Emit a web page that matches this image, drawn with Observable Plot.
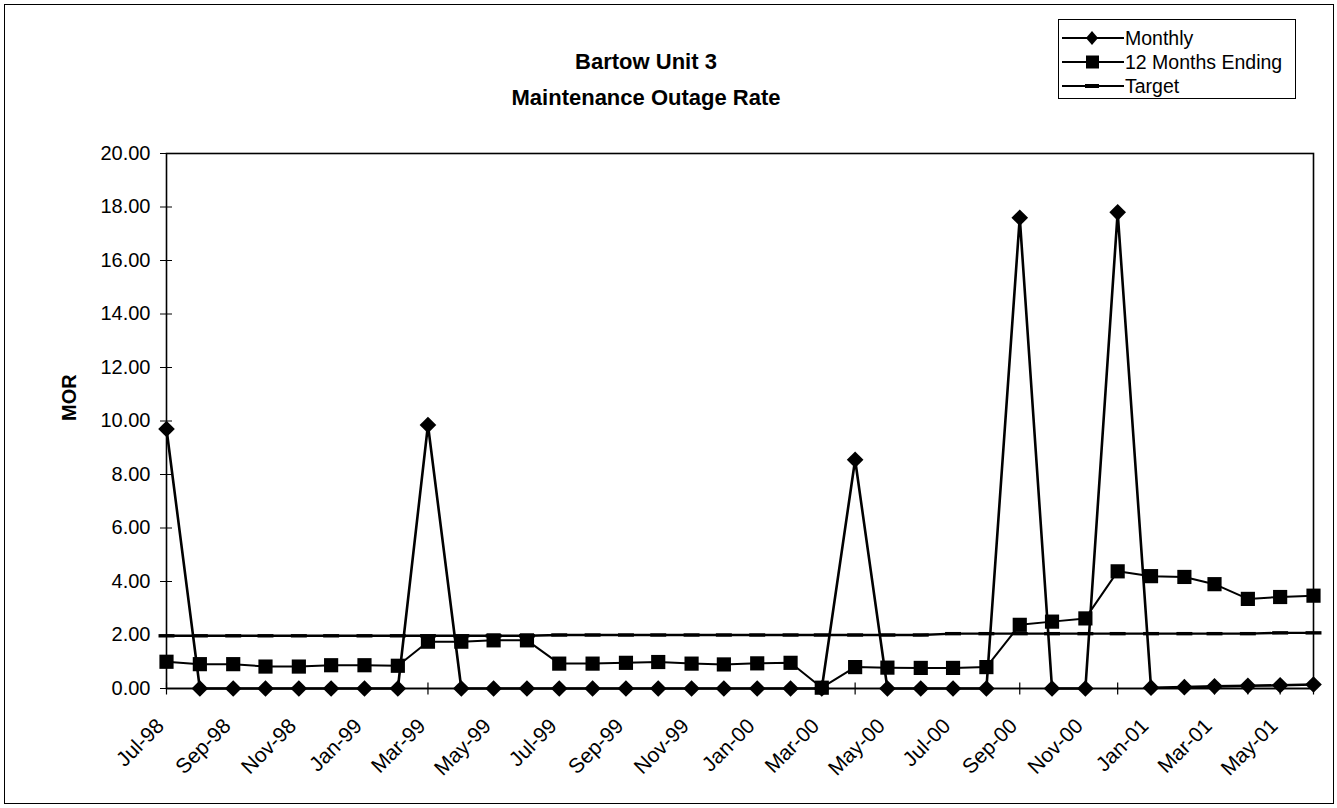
<!DOCTYPE html>
<html>
<head>
<meta charset="utf-8">
<script src="https://cdn.jsdelivr.net/npm/d3@7"></script>
<script src="https://cdn.jsdelivr.net/npm/@observablehq/plot@0.6"></script>
<style>
  html, body { margin: 0; padding: 0; background: #fff; }
  #wrap { position: relative; width: 1337px; height: 808px; overflow: hidden; font-family: "Liberation Sans", Arial, sans-serif; }
  #border { position: absolute; left: 4px; top: 4px; width: 1330px; height: 800px; border: 1.5px solid #000; box-sizing: border-box; }
  #title { position: absolute; left: 0; width: 1292px; top: 44px; text-align: center; font-weight: bold; font-size: 22px; line-height: 36px; color: #000; }
  #legend { position: absolute; left: 1058px; top: 19px; width: 238px; height: 80px; border: 1.5px solid #000; box-sizing: border-box; background: #fff; }
  .li { position: absolute; left: 3px; height: 24px; display: flex; align-items: center; font-size: 19.5px; color: #000; white-space: nowrap; }
  .li svg { margin-right: 1px; }
  #chart { position: absolute; left: 0; top: 0; }
</style>
</head>
<body>
<div id="wrap">
  <div id="border"></div>
  <div id="chart"></div>
  <div id="title">Bartow Unit 3<br>Maintenance Outage Rate</div>
  <div id="legend"></div>
</div>
<script>
const months = ["Jul-98","Aug-98","Sep-98","Oct-98","Nov-98","Dec-98","Jan-99","Feb-99","Mar-99","Apr-99","May-99","Jun-99",
  "Jul-99","Aug-99","Sep-99","Oct-99","Nov-99","Dec-99","Jan-00","Feb-00","Mar-00","Apr-00","May-00","Jun-00",
  "Jul-00","Aug-00","Sep-00","Oct-00","Nov-00","Dec-00","Jan-01","Feb-01","Mar-01","Apr-01","May-01","Jun-01"];
const monthly = [9.7,0,0,0,0,0,0,0,9.85,0,0,0,
  0,0,0,0,0,0,0,0,0,8.55,0,0,
  0,0,17.6,0,0,17.8,0.03,0.05,0.08,0.1,0.12,0.15];
const twelveMonths = [1.0,0.91,0.91,0.82,0.82,0.87,0.87,0.85,1.75,1.75,1.8,1.8,
  0.93,0.93,0.96,0.99,0.93,0.9,0.94,0.96,0.03,0.8,0.78,0.77,
  0.77,0.8,2.38,2.5,2.62,4.38,4.2,4.17,3.9,3.35,3.42,3.47];
const target = [1.97,1.97,1.97,1.97,1.97,1.97,1.97,1.97,1.97,1.97,1.97,1.97,
  2.0,2.0,2.0,2.0,2.0,2.0,2.0,2.0,2.0,2.0,2.0,2.0,
  2.05,2.05,2.05,2.05,2.05,2.05,2.05,2.05,2.05,2.05,2.08,2.08];
const yTicks = [0,2,4,6,8,10,12,14,16,18,20];
const xTickLabels = months.filter((m, i) => i % 2 === 0);

const parse = d3.utcParse("%b-%y");
const rows = months.map((m, i) => ({date: parse(m), monthly: monthly[i], twelve: twelveMonths[i], target: target[i]}));
const fmt = d3.utcFormat("%b-%y");

const dashSymbol = { draw(ctx, size) { const w = Math.sqrt(size) * 1.5, h = 3.4; ctx.rect(-w/2, -h/2, w, h); } };
const vTick = { draw(ctx, size) { ctx.moveTo(0, -6); ctx.lineTo(0, 6); } };

const plot = Plot.plot({
  width: 1337,
  height: 808,
  marginLeft: 166,
  marginRight: 24,
  marginTop: 153,
  marginBottom: 120,
  style: { fontFamily: "'Liberation Sans', Arial, sans-serif", fontSize: "20px", color: "#000", background: "transparent" },
  x: { type: "utc", domain: [rows[0].date, rows[rows.length - 1].date] },
  y: { domain: [0, 20] },
  marks: [
    Plot.frame({ stroke: "#000", strokeWidth: 1.6 }),
    Plot.axisY({ ticks: yTicks, tickFormat: d => d.toFixed(2), tickSize: 6, tickPadding: 10, fontSize: 20, label: null }),
    Plot.axisY({ ticks: yTicks, tickSize: -6, text: null, label: null }),
    Plot.axisX({ ticks: xTickLabels.map(parse), tickFormat: fmt, tickRotate: -45, tickSize: 0, tickPadding: 34, dx: -6, fontSize: 21, label: null }),
    Plot.dot(rows, { x: "date", y: () => 0, symbol: vTick, stroke: "#000", strokeWidth: 1.2, fill: "none" }),
    Plot.text(["MOR"], { frameAnchor: "left", dx: -97, dy: 0, rotate: -90, fontWeight: "bold", fontSize: 20 }),
    Plot.ruleY([0], { stroke: "#000", strokeWidth: 1.3 }),
    Plot.line(rows, { x: "date", y: "target", stroke: "#000", strokeWidth: 2.4 }),
    Plot.dot(rows, { x: "date", y: "target", symbol: dashSymbol, r: 6, fill: "#000", stroke: "none" }),
    Plot.line(rows, { x: "date", y: "twelve", stroke: "#000", strokeWidth: 2 }),
    Plot.dot(rows, { x: "date", y: "twelve", symbol: "square", r: 8, fill: "#000", stroke: "none" }),
    Plot.line(rows, { x: "date", y: "monthly", stroke: "#000", strokeWidth: 2.6 }),
    Plot.dot(rows, { x: "date", y: "monthly", symbol: "diamond2", r: 7.5, fill: "#000", stroke: "none" })
  ]
});
document.getElementById("chart").appendChild(plot);

// legend
const legendItems = [
  { name: "Monthly", sym: "diamond" },
  { name: "12 Months Ending", sym: "square" },
  { name: "Target", sym: "dash" }
];
const lg = document.getElementById("legend");
legendItems.forEach((it, i) => {
  const div = document.createElement("div");
  div.className = "li";
  div.style.top = (6 + i * 24) + "px";
  let shape = "";
  if (it.sym === "diamond") shape = '<path d="M30,5 L36,12 L30,19 L24,12 Z" fill="#000"/>';
  if (it.sym === "square") shape = '<rect x="24" y="5.5" width="13" height="13" fill="#000"/>';
  if (it.sym === "dash") shape = '<rect x="23" y="10" width="14" height="4" fill="#000"/>';
  div.innerHTML = '<svg width="62" height="24"><line x1="0" y1="12" x2="62" y2="12" stroke="#000" stroke-width="1.8"/>' + shape + '</svg><span>' + it.name + '</span>';
  lg.appendChild(div);
});
</script>
</body>
</html>
